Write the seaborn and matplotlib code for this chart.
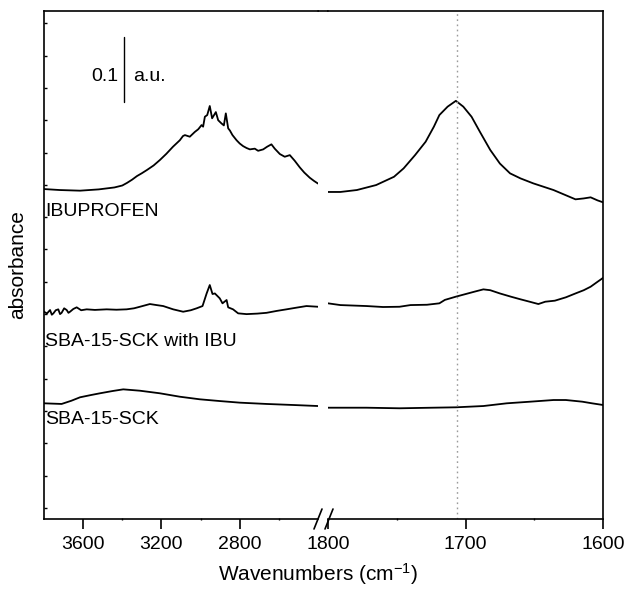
import numpy as np
import pandas as pd
import matplotlib
matplotlib.use("Agg")
import matplotlib.pyplot as plt
from matplotlib.lines import Line2D
import seaborn as sns

# ---------------- data ----------------
# IBUPROFEN, high-wavenumber segment
ibu_hi_wn = [3800, 3720, 3616, 3520, 3440, 3400, 3376, 3350, 3325, 3300, 3274, 3240, 3208,
             3175, 3141, 3106, 3090, 3080, 3055, 3029, 3012, 3004, 2995, 2987, 2978, 2966,
             2953, 2941, 2922, 2910, 2893, 2881, 2871, 2859, 2850, 2837, 2816, 2800, 2783,
             2765, 2748, 2723, 2706, 2680, 2660, 2638, 2621, 2595, 2570, 2544, 2519, 2493,
             2470, 2442, 2420, 2400]
ibu_hi_ab = [0.4935, 0.492, 0.491, 0.493, 0.496, 0.499, 0.503, 0.508, 0.5136, 0.518, 0.523,
             0.530, 0.5384, 0.548, 0.559, 0.569, 0.5755, 0.577, 0.5745, 0.582, 0.586, 0.589,
             0.5925, 0.590, 0.6054, 0.608, 0.622, 0.603, 0.6126, 0.600, 0.595, 0.592, 0.6106,
             0.5875, 0.584, 0.577, 0.569, 0.564, 0.560, 0.557, 0.5549, 0.556, 0.5527, 0.5549,
             0.559, 0.5627, 0.556, 0.5477, 0.5435, 0.546, 0.5373, 0.527, 0.519, 0.511, 0.506,
             0.502]
# IBUPROFEN, carbonyl segment
ibu_lo_wn = [1800, 1791, 1779, 1765, 1752, 1745, 1736.7, 1729, 1723, 1719, 1713, 1707,
             1701.6, 1695.6, 1689.5, 1682, 1675, 1667.6, 1660, 1650.7, 1636, 1620, 1614,
             1609, 1604, 1600]
ibu_lo_ab = [0.489, 0.489, 0.492, 0.4997, 0.5125, 0.5255, 0.546, 0.5667, 0.590, 0.608,
             0.621, 0.630, 0.621, 0.6054, 0.582, 0.554, 0.533, 0.5178, 0.510, 0.5023, 0.492,
             0.4776, 0.479, 0.4807, 0.476, 0.473]

# SBA-15-SCK with IBU
mix_hi_wn = [3800, 3785, 3769, 3760, 3752, 3740, 3727, 3718, 3710, 3697, 3684, 3675, 3667,
             3650, 3633, 3610, 3582, 3540, 3480, 3430, 3378, 3340, 3310, 3259, 3225, 3191,
             3140, 3089, 3050, 3020, 2990, 2969, 2953, 2939, 2927, 2902, 2888, 2867, 2859,
             2834, 2808, 2765, 2710, 2663, 2610, 2561, 2510, 2459, 2400]
mix_hi_ab = [0.3037, 0.301, 0.3063, 0.299, 0.3012, 0.306, 0.3074, 0.300, 0.302, 0.309, 0.3063,
             0.302, 0.3037, 0.308, 0.3105, 0.306, 0.3074, 0.3065, 0.3074, 0.3068, 0.3074,
             0.309, 0.3114, 0.3156, 0.314, 0.3125, 0.3074, 0.3037, 0.306, 0.309, 0.3125,
             0.332, 0.345, 0.3311, 0.332, 0.3244, 0.3167, 0.3218, 0.3105, 0.3074, 0.3012,
             0.300, 0.3008, 0.302, 0.305, 0.3074, 0.310, 0.3125, 0.3114]
mix_lo_wn = [1800, 1791, 1772, 1760, 1748, 1740, 1728, 1719, 1715, 1707, 1700, 1693, 1687,
             1682, 1675, 1667, 1660, 1653, 1647, 1642, 1635, 1627, 1620, 1614, 1609, 1604,
             1600]
mix_lo_ab = [0.3167, 0.314, 0.3125, 0.311, 0.3114, 0.314, 0.3145, 0.3167, 0.322, 0.327,
             0.331, 0.335, 0.3383, 0.337, 0.332, 0.327, 0.3229, 0.319, 0.3156, 0.3192,
             0.3208, 0.326, 0.332, 0.337, 0.3424, 0.350, 0.356]

# SBA-15-SCK
sba_hi_wn = [3800, 3710, 3660, 3616, 3560, 3514, 3450, 3395, 3310, 3208, 3106, 3004, 2902,
             2799, 2663, 2527, 2400]
sba_hi_ab = [0.162, 0.161, 0.166, 0.1713, 0.1748, 0.1775, 0.181, 0.1836, 0.1815, 0.1775,
             0.1722, 0.1682, 0.1655, 0.163, 0.161, 0.1594, 0.1578]
sba_lo_wn = [1800, 1772, 1748, 1724, 1707, 1687, 1670, 1653, 1636, 1627, 1615, 1608, 1600]
sba_lo_ab = [0.1552, 0.1552, 0.1543, 0.1552, 0.1558, 0.1578, 0.162, 0.1645, 0.1671, 0.1671,
             0.1645, 0.162, 0.1594]

labels = ["IBUPROFEN", "SBA-15-SCK with IBU", "SBA-15-SCK"]
label_y = [0.4595, 0.2584, 0.1362]
hi_ticks = [3600, 3200, 2800]
hi_minor = [3400, 3000, 2600]
lo_ticks = [1800, 1700, 1600]
lo_minor = [1750, 1650]
marker_wn = 1706

# ---------------- style ----------------
sns.set_theme(style="ticks")
plt.rcParams["font.family"] = ["Liberation Sans", "DejaVu Sans"]
plt.rcParams["mathtext.fontset"] = "custom"
plt.rcParams["mathtext.rm"] = "Liberation Sans"
plt.rcParams["mathtext.it"] = "Liberation Sans"
plt.rcParams["axes.linewidth"] = 1.2
plt.rcParams["axes.edgecolor"] = "black"
plt.rcParams["text.color"] = "black"
plt.rcParams["axes.labelcolor"] = "black"
plt.rcParams["xtick.color"] = "black"
plt.rcParams["ytick.color"] = "black"

W, H = 627, 592
fig = plt.figure(figsize=(W / 100, H / 100), dpi=100)
axL = fig.add_axes([44 / W, 73 / H, 274 / W, 508 / H])
axR = fig.add_axes([328 / W, 73 / H, 275 / W, 508 / H])

segments = [
    (axL, ibu_hi_wn, ibu_hi_ab), (axL, mix_hi_wn, mix_hi_ab), (axL, sba_hi_wn, sba_hi_ab),
    (axR, ibu_lo_wn, ibu_lo_ab), (axR, mix_lo_wn, mix_lo_ab), (axR, sba_lo_wn, sba_lo_ab),
]
for ax, xs, ys in segments:
    df = pd.DataFrame({"wn": xs, "ab": ys})
    sns.lineplot(data=df, x="wn", y="ab", ax=ax, color="black", lw=1.3,
                 sort=False, estimator=None)

axR.axvline(marker_wn, color="#9a9a9a", lw=1.0, ls=(0, (1.2, 2.5)))

for ax in (axL, axR):
    ax.set_ylim(-0.017, 0.769)
    ax.set_xlabel("")
    ax.set_ylabel("")
    ax.tick_params(axis="x", which="major", direction="out", length=7, width=1.2,
                   labelsize=14, pad=5, colors="black")
    ax.tick_params(axis="x", which="minor", direction="inout", length=1.5, width=1.0)

axL.set_xlim(3800, 2400)
axR.set_xlim(1800, 1600)
axL.set_xticks(hi_ticks)
axL.set_xticks(hi_minor, minor=True)
axR.set_xticks(lo_ticks)
axR.set_xticks(lo_minor, minor=True)

axL.set_yticks(np.arange(0, 0.76, 0.05))
axL.tick_params(axis="y", direction="in", length=2, width=1.0, labelleft=False)
axR.set_yticks([])
axR.tick_params(axis="y", left=False, right=False, labelleft=False)

axL.spines["right"].set_visible(False)
axR.spines["left"].set_visible(False)
for ax in (axL, axR):
    for s in ax.spines.values():
        s.set_linewidth(1.2)
        s.set_color("black")

# axis break: join top spine and draw // on the bottom spine
fig.add_artist(Line2D([318 / W, 328 / W], [1 - 11 / H, 1 - 11 / H],
                      transform=fig.transFigure, color="black", lw=1.2))
for cx in (318, 329):
    fig.add_artist(Line2D([(cx - 4) / W, (cx + 4) / W], [1 - 529 / H, 1 - 509 / H],
                          transform=fig.transFigure, color="black", lw=1.2))

# scale bar
axL.plot([3389, 3389], [0.628, 0.728], color="black", lw=1.0)
axL.text(3422, 0.668, "0.1", ha="right", va="center", fontsize=14)
axL.text(3346, 0.668, "a.u.", ha="left", va="center", fontsize=14)

for lab, yy in zip(labels, label_y):
    axL.text(0.004, yy, lab, transform=axL.get_yaxis_transform(), ha="left",
             va="center", fontsize=14)

axL.set_ylabel("absorbance", fontsize=15, labelpad=12)
fig.text(318 / W, 1 - 574 / H, "Wavenumbers (cm$^{-1}$)", ha="center", va="center",
         fontsize=15)

fig.savefig("out.png", dpi=100)
